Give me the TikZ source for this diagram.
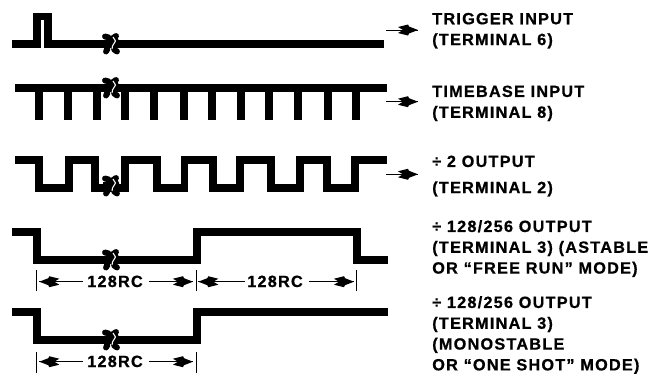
\documentclass[tikz,border=0pt]{standalone}
\usepackage{fontspec}
\setmainfont{Liberation Sans}
\newfontfamily\lblfont{Liberation Sans}[LetterSpace=7.5,BoldFeatures={FakeBold=0.7}]
\begin{document}
\begin{tikzpicture}[x=0.75pt,y=-0.75pt,
  wave/.style={line width=5.8pt,line join=miter,line cap=butt},
  thinline/.style={line width=0.6pt},
  lbl/.style={font=\fontsize{12.2pt}{15.6pt}\selectfont\lblfont\bfseries,anchor=north west,inner sep=0pt,align=left,text=black},
  dimlbl/.style={font=\fontsize{12.2pt}{15.6pt}\selectfont\lblfont\bfseries,inner sep=0pt,anchor=base,text=black},
  head/.pic={\fill[black] (0,0) -- (-9,-3.5) -- (-10,-5.5) -- (-20,-3) -- (-15,0) -- (-20,3) -- (-10,5.5) -- (-9,3.5) -- cycle;},
  brk/.pic={
    \draw[black,line width=4.4pt,line cap=round] (-6,-7.5) .. controls (-1,-7) and (0,-4) .. (-3,-1) .. controls (-6,2) and (-2,5) .. (-5,7.5);
    \draw[black,line width=4.4pt,line cap=round] (5,-8) .. controls (0,-7) and (7,-3) .. (5,0) .. controls (3,3) and (1,5) .. (6,7.5);
    \fill[black] (-8,-4) rectangle (7,4);
    \draw[white,line width=0.8pt] (2,-7) -- (4.5,-3) -- (1.5,2) -- (1,5);
  }]
\useasboundingbox (0,0) rectangle (656,375);
% traces
\draw[wave] (12,43.7) -- (37,43.7) -- (37,16.5) -- (48,16.5) -- (48,47.7);
\draw[wave] (44.3,43.7) -- (384,43.7);
\draw[wave] (15,88) -- (387,88);
\foreach \x in {38.7,67.7,97,125.3,154.3,183.7,212,240.7,269.3,298.3,327.7,355.7}
  \draw[wave] (\x,88) -- (\x,120);
\draw[wave] (15,160) -- (38.8,160) -- (38.8,187.7) -- (68.7,187.7) -- (68.7,160) -- (95,160) -- (95,187.7) -- (124.7,187.7) -- (124.7,160) -- (157,160) -- (157,187.7) -- (184.5,187.7) -- (184.5,160) -- (213,160) -- (213,187.7) -- (240.3,187.7) -- (240.3,160) -- (271,160) -- (271,187.7) -- (299.7,187.7) -- (299.7,160) -- (326.7,160) -- (326.7,187.7) -- (355.3,187.7) -- (355.3,160) -- (387,160);
\draw[wave] (12,232) -- (36.7,232) -- (36.7,260.3) -- (196.7,260.3) -- (196.7,232) -- (356.7,232) -- (356.7,260.3) -- (388,260.3);
\draw[wave] (12,312.3) -- (36.7,312.3) -- (36.7,340.3) -- (196.7,340.3) -- (196.7,312.3) -- (388,312.3);
% break marks
\foreach \y in {44,88,186,260,340}
  \pic at (111,\y) {brk};
% small arrows
\foreach \y/\n in {30/a,101.7/b,174.3/c}{
  \coordinate (s\n) at (386,\y);
  \coordinate (t\n) at (418,\y);
  \draw[thinline] (s\n) -- (t\n);
  \pic at (t\n) {head};
}
% dimension ticks
\foreach \x/\n in {36/a,196/b,356/c}{
  \coordinate (u\n) at (\x,270);
  \coordinate (v\n) at (\x,291);
  \draw[thinline] (u\n) -- (v\n);
}
\foreach \x/\n in {36/d,196/e}{
  \coordinate (u\n) at (\x,352);
  \coordinate (v\n) at (\x,373);
  \draw[thinline] (u\n) -- (v\n);
}
% dim labels
\node[dimlbl] (d1) at (115,287) {128RC};
\node[dimlbl] (d2) at (275,287) {128RC};
\node[dimlbl] (d3) at (115,367) {128RC};
\foreach \y/\n/\xa/\xb/\xc/\xd in {281.7/p/39.3/83/149/193,281.7/q/198.3/245/309/354,361.7/r/39.3/83/149/193}{
  \coordinate (l\n) at (\xa,\y);
  \coordinate (m\n) at (\xb,\y);
  \coordinate (n\n) at (\xc,\y);
  \coordinate (o\n) at (\xd,\y);
  \draw[thinline] (l\n) -- (m\n);
  \draw[thinline] (n\n) -- (o\n);
  \pic[rotate=180] at (l\n) {head};
  \pic at (o\n) {head};
}
% labels
\node[lbl] (l1) at (432,8) {\rule{0pt}{12pt}TRIGGER INPUT\\(TERMINAL 6)};
\node[lbl] (l2) at (432,80.7) {\rule{0pt}{12pt}TIMEBASE INPUT\\(TERMINAL 8)};
\node[lbl] (l3) at (432,150.7) {\rule{0pt}{12pt}÷ 2 OUTPUT\\[4pt](TERMINAL 2)};
\node[lbl] (l4) at (432,215.7) {\rule{0pt}{12pt}÷ 128/256 OUTPUT\\(TERMINAL 3) (ASTABLE\\OR “FREE RUN” MODE)};
\node[lbl] (l5) at (432,291.7) {\rule{0pt}{12pt}÷ 128/256 OUTPUT\\(TERMINAL 3)\\(MONOSTABLE\\OR “ONE SHOT” MODE)};
\end{tikzpicture}
\end{document}
